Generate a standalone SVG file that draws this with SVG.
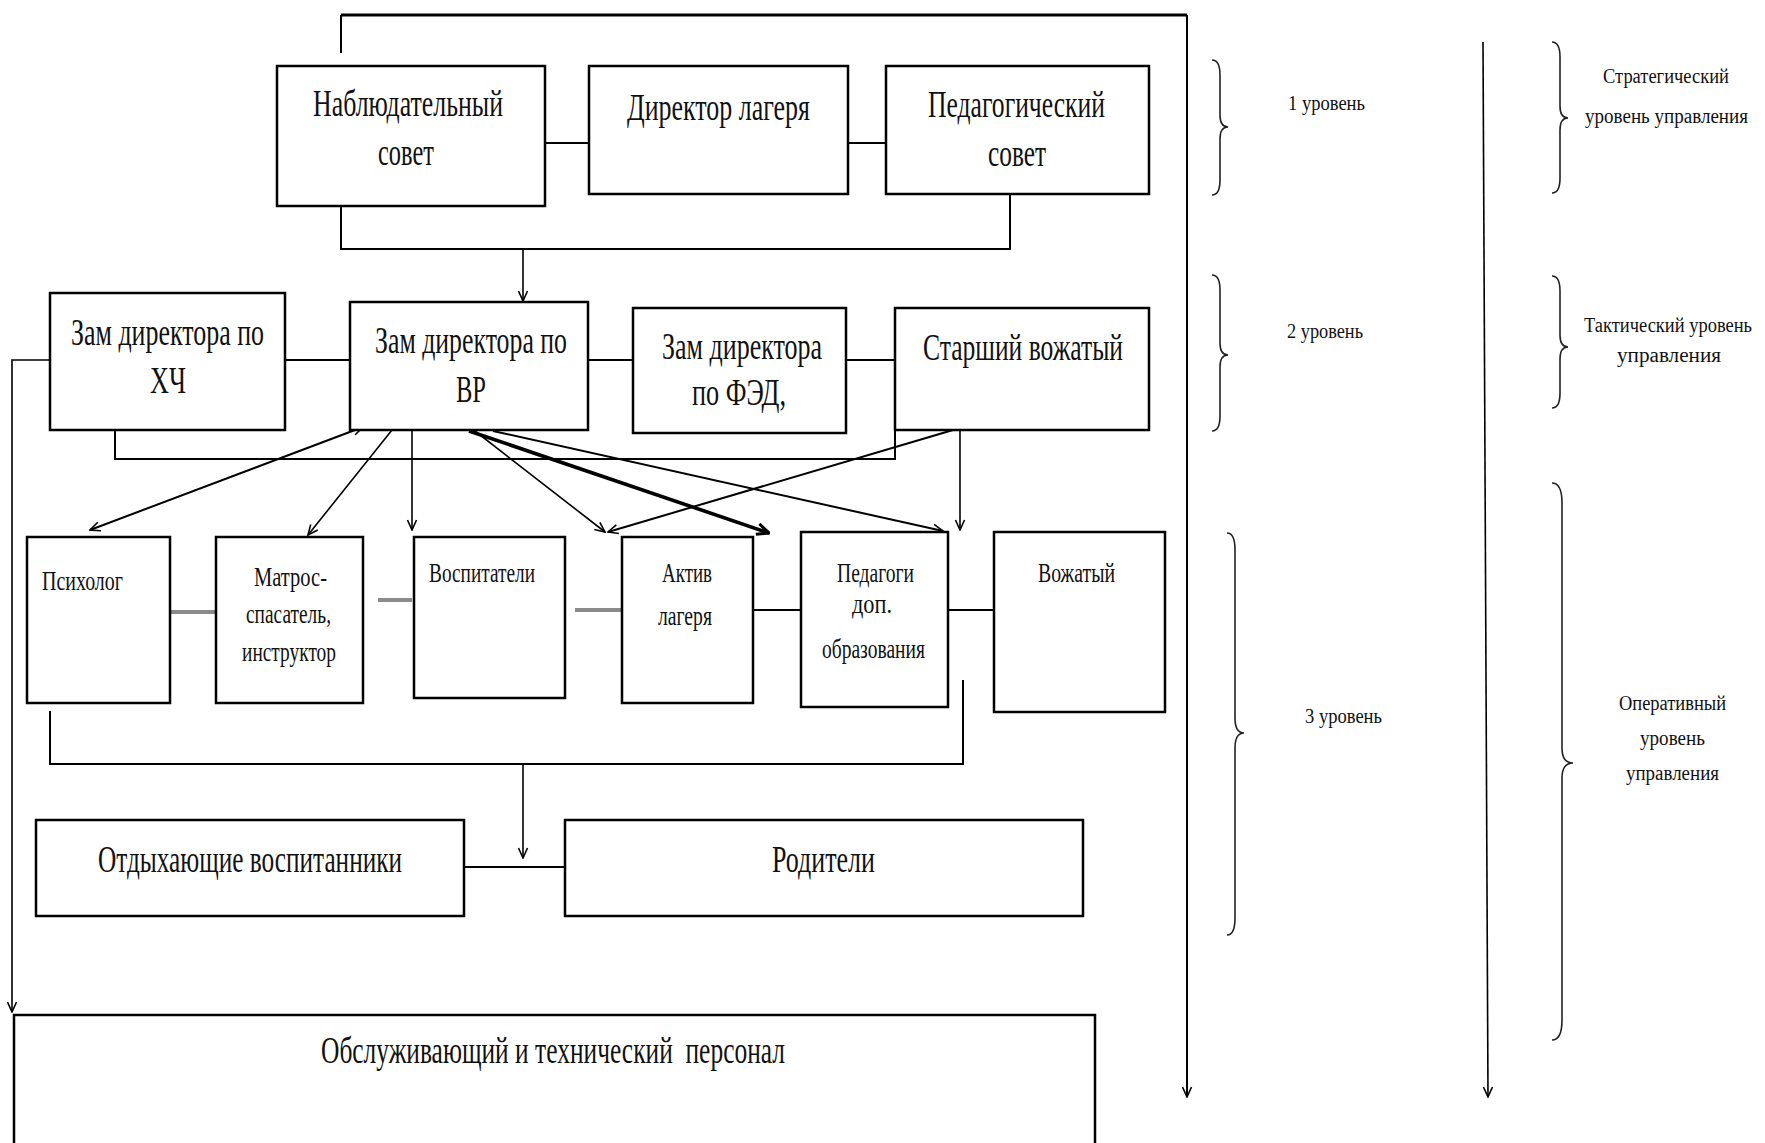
<svg xmlns="http://www.w3.org/2000/svg" width="1765" height="1143" viewBox="0 0 1765 1143">
<style>
  .box { fill: #fff; stroke: #000; stroke-width: 2.5; }
  .ln { fill: none; stroke: #000; stroke-width: 2; }
  .thin { fill: none; stroke: #000; stroke-width: 1.6; }
  .thick { fill: none; stroke: #000; stroke-width: 3.6; }
  .gray { fill: none; stroke: #8a8a8a; stroke-width: 4; }
  .brace { fill: none; stroke: #222; stroke-width: 1.6; }
  text { font-family: "Liberation Serif", "Times New Roman", serif; fill: #111; }
  .t37 { font-size: 37px; }
  .t27 { font-size: 27px; }
  .t20 { font-size: 20px; }
</style>
<defs>
  <marker id="arr" viewBox="0 0 12 12" refX="11" refY="6" markerWidth="12" markerHeight="12" markerUnits="userSpaceOnUse" orient="auto-start-reverse">
    <path d="M1,1.5 L11,6 L1,10.5" fill="none" stroke="#000" stroke-width="1.6"/>
  </marker>
  <marker id="arrT" viewBox="0 0 14 14" refX="13" refY="7" markerWidth="14" markerHeight="14" markerUnits="userSpaceOnUse" orient="auto">
    <path d="M1,1.5 L13,7 L1,12.5" fill="none" stroke="#000" stroke-width="3"/>
  </marker>
</defs>
<rect width="1765" height="1143" fill="#fff"/>

<g id="connectors">
  <path class="ln" d="M341,15 H1187" style="stroke-width:2.8"/>
  <path class="ln" d="M341,53 V15 M1187,15 V1097" marker-end="url(#arr)"/>
  <path class="ln" d="M545,143 H589 M848,143 H886"/>
  <path class="ln" d="M341,197 V249 H1010 V194"/>
  <path class="thin" d="M523,249 V301" marker-end="url(#arr)"/>
  <path class="ln" d="M285,360 H350 M588,360 H633 M846,360 H895"/>
  <path class="thin" d="M50,360 H12 V1012" marker-end="url(#arr)"/>
  <path class="ln" d="M115,430 V459 H895 V430"/>
  <path class="ln" d="M363,427 L90,530" marker-start="url(#arr)" marker-end="url(#arr)"/>
  <path class="thin" d="M392,430 L308,535" marker-end="url(#arr)"/>
  <path class="thin" d="M412,430 V530" marker-end="url(#arr)"/>
  <path class="thin" d="M475,431 L605,532" marker-end="url(#arr)"/>
  <path class="thick" d="M469,431 L769,533" marker-end="url(#arrT)"/>
  <path class="ln" d="M493,431 L943,531" marker-end="url(#arr)"/>
  <path class="ln" d="M953,430 L608,532" marker-end="url(#arr)"/>
  <path class="thin" d="M960,430 V530" marker-end="url(#arr)"/>
  <path class="gray" d="M170,612 H216 M378,600 H412 M575,610 H622"/>
  <path class="ln" d="M753,610 H801 M948,610 H994"/>
  <path class="ln" d="M50,711 V764 H963 V680"/>
  <path class="thin" d="M523,764 V858" marker-end="url(#arr)"/>
  <path class="ln" d="M464,867 H565"/>
  <path class="thin" d="M1483,42 L1488,1097" marker-end="url(#arr)"/>
</g>

<g id="n-nabl">
  <rect class="box" x="277" y="66" width="268" height="140"/>
  <text class="t37" x="313" y="116" textLength="190" lengthAdjust="spacingAndGlyphs">Наблюдательный</text>
  <text class="t37" x="378" y="165" textLength="56" lengthAdjust="spacingAndGlyphs">совет</text>
</g>
<g id="n-director">
  <rect class="box" x="589" y="66" width="259" height="128"/>
  <text class="t37" x="627" y="120" textLength="183" lengthAdjust="spacingAndGlyphs">Директор лагеря</text>
</g>
<g id="n-pedsovet">
  <rect class="box" x="886" y="66" width="263" height="128"/>
  <text class="t37" x="928" y="117" textLength="177" lengthAdjust="spacingAndGlyphs">Педагогический</text>
  <text class="t37" x="988" y="166" textLength="58" lengthAdjust="spacingAndGlyphs">совет</text>
</g>

<g id="n-zam-hch">
  <rect class="box" x="50" y="293" width="235" height="137"/>
  <text class="t37" x="71" y="345" textLength="193" lengthAdjust="spacingAndGlyphs">Зам директора по</text>
  <text class="t37" x="150" y="393" textLength="36" lengthAdjust="spacingAndGlyphs">ХЧ</text>
</g>
<g id="n-zam-vr">
  <rect class="box" x="350" y="302" width="238" height="128"/>
  <text class="t37" x="375" y="353" textLength="192" lengthAdjust="spacingAndGlyphs">Зам директора по</text>
  <text class="t37" x="456" y="402" textLength="30" lengthAdjust="spacingAndGlyphs">ВР</text>
</g>
<g id="n-zam-fed">
  <rect class="box" x="633" y="308" width="213" height="125"/>
  <text class="t37" x="662" y="359" textLength="160" lengthAdjust="spacingAndGlyphs">Зам директора</text>
  <text class="t37" x="692" y="405" textLength="94" lengthAdjust="spacingAndGlyphs">по ФЭД,</text>
</g>
<g id="n-starshiy">
  <rect class="box" x="895" y="308" width="254" height="122"/>
  <text class="t37" x="923" y="360" textLength="200" lengthAdjust="spacingAndGlyphs">Старший вожатый</text>
</g>

<g id="n-psiholog">
  <rect class="box" x="27" y="537" width="143" height="166"/>
  <text class="t27" x="42" y="590" textLength="81" lengthAdjust="spacingAndGlyphs">Психолог</text>
</g>
<g id="n-matros">
  <rect class="box" x="216" y="537" width="147" height="166"/>
  <text class="t27" x="254" y="586" textLength="73" lengthAdjust="spacingAndGlyphs">Матрос-</text>
  <text class="t27" x="246" y="623" textLength="85" lengthAdjust="spacingAndGlyphs">спасатель,</text>
  <text class="t27" x="242" y="661" textLength="94" lengthAdjust="spacingAndGlyphs">инструктор</text>
</g>
<g id="n-vospit">
  <rect class="box" x="414" y="537" width="151" height="161"/>
  <text class="t27" x="429" y="582" textLength="106" lengthAdjust="spacingAndGlyphs">Воспитатели</text>
</g>
<g id="n-aktiv">
  <rect class="box" x="622" y="537" width="131" height="166"/>
  <text class="t27" x="662" y="582" textLength="50" lengthAdjust="spacingAndGlyphs">Актив</text>
  <text class="t27" x="658" y="625" textLength="54" lengthAdjust="spacingAndGlyphs">лагеря</text>
</g>
<g id="n-pedagogi">
  <rect class="box" x="801" y="532" width="147" height="175"/>
  <text class="t27" x="837" y="582" textLength="77" lengthAdjust="spacingAndGlyphs">Педагоги</text>
  <text class="t27" x="852" y="613" textLength="40" lengthAdjust="spacingAndGlyphs">доп.</text>
  <text class="t27" x="822" y="658" textLength="103" lengthAdjust="spacingAndGlyphs">образования</text>
</g>
<g id="n-vozhatyi">
  <rect class="box" x="994" y="532" width="171" height="180"/>
  <text class="t27" x="1038" y="582" textLength="77" lengthAdjust="spacingAndGlyphs">Вожатый</text>
</g>

<g id="n-otdyh">
  <rect class="box" x="36" y="820" width="428" height="96"/>
  <text class="t37" x="98" y="872" textLength="304" lengthAdjust="spacingAndGlyphs">Отдыхающие воспитанники</text>
</g>
<g id="n-roditeli">
  <rect class="box" x="565" y="820" width="518" height="96"/>
  <text class="t37" x="772" y="872" textLength="103" lengthAdjust="spacingAndGlyphs">Родители</text>
</g>
<g id="n-personal">
  <rect class="box" x="14" y="1015" width="1081" height="200"/>
  <text class="t37" x="321" y="1063" textLength="464" lengthAdjust="spacingAndGlyphs" xml:space="preserve">Обслуживающий и технический  персонал</text>
</g>

<g id="levels">
  <path class="brace" d="M1212,60 Q1220,60 1220,75 V115 Q1220,127 1228,127 Q1220,127 1220,139 V180 Q1220,195 1212,195"/>
  <text class="t20" x="1288" y="110" textLength="77" lengthAdjust="spacingAndGlyphs">1 уровень</text>
  <path class="brace" d="M1212,275 Q1220,275 1220,290 V343 Q1220,355 1228,355 Q1220,355 1220,367 V416 Q1220,431 1212,431"/>
  <text class="t20" x="1287" y="338" textLength="76" lengthAdjust="spacingAndGlyphs">2 уровень</text>
  <path class="brace" d="M1227,533 Q1235,533 1235,550 V718 Q1235,733 1244,733 Q1235,733 1235,748 V918 Q1235,935 1227,935"/>
  <text class="t20" x="1305" y="723" textLength="77" lengthAdjust="spacingAndGlyphs">3 уровень</text>
</g>
<g id="mgmt">
  <path class="brace" d="M1552,42 Q1560,42 1560,57 V106 Q1560,118 1568,118 Q1560,118 1560,130 V178 Q1560,193 1552,193"/>
  <text class="t20" x="1603" y="83" textLength="126" lengthAdjust="spacingAndGlyphs">Стратегический</text>
  <text class="t20" x="1585" y="123" textLength="163" lengthAdjust="spacingAndGlyphs">уровень управления</text>
  <path class="brace" d="M1552,276 Q1560,276 1560,291 V335 Q1560,347 1568,347 Q1560,347 1560,359 V393 Q1560,408 1552,408"/>
  <text class="t20" x="1584" y="332" textLength="168" lengthAdjust="spacingAndGlyphs">Тактический уровень</text>
  <text class="t20" x="1617" y="362" textLength="104" lengthAdjust="spacingAndGlyphs">управления</text>
  <path class="brace" d="M1552,483 Q1562,483 1562,503 V748 Q1562,763 1573,763 Q1562,763 1562,778 V1020 Q1562,1040 1552,1040"/>
  <text class="t20" x="1619" y="710" textLength="107" lengthAdjust="spacingAndGlyphs">Оперативный</text>
  <text class="t20" x="1640" y="745" textLength="65" lengthAdjust="spacingAndGlyphs">уровень</text>
  <text class="t20" x="1626" y="780" textLength="93" lengthAdjust="spacingAndGlyphs">управления</text>
</g>
</svg>
